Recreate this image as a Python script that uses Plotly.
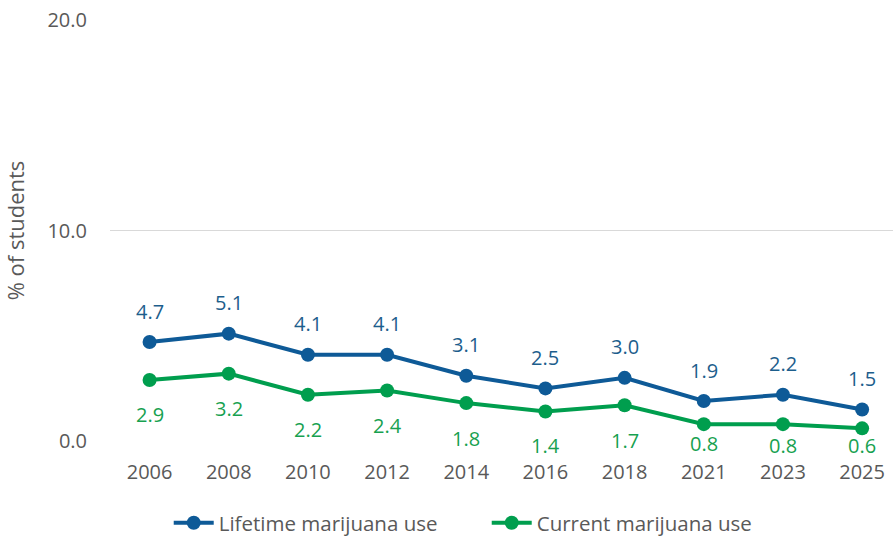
import plotly.graph_objects as go

years = ["2006", "2008", "2010", "2012", "2014", "2016", "2018", "2021", "2023", "2025"]
lifetime_use = [4.7, 5.1, 4.1, 4.1, 3.1, 2.5, 3.0, 1.9, 2.2, 1.5]
current_use = [2.9, 3.2, 2.2, 2.4, 1.8, 1.4, 1.7, 0.8, 0.8, 0.6]
y_ticks = [0, 10, 20]

# pixel offsets of the value labels (lifetime above, current below;
# the last current-use labels are pulled up so they stay clear of the year labels)
lifetime_label_shift = [31] * 10
current_label_shift = [-35] * 5 + [-34, -35, -19, -21, -17]

BLUE = "#0E5A97"
GREEN = "#009E4E"
BLUE_TEXT = "#1D5E8C"
GREEN_TEXT = "#17A150"
GREY = "#595959"
FONT = "Open Sans"

fig = go.Figure()
fig.add_trace(go.Scatter(
    x=years, y=lifetime_use, name="Lifetime marijuana use",
    mode="lines+markers",
    line=dict(color=BLUE, width=4),
    marker=dict(color=BLUE, size=14),
))
fig.add_trace(go.Scatter(
    x=years, y=current_use, name="Current marijuana use",
    mode="lines+markers",
    line=dict(color=GREEN, width=4),
    marker=dict(color=GREEN, size=14),
))

# value labels (category positions given by index so the year strings
# are not read as numbers)
for i, (v, s) in enumerate(zip(lifetime_use, lifetime_label_shift)):
    fig.add_annotation(x=i, y=v, text=f"{v:.1f}", showarrow=False,
                       yshift=s, font=dict(family=FONT, size=20, color=BLUE_TEXT))
for i, (v, s) in enumerate(zip(current_use, current_label_shift)):
    fig.add_annotation(x=i, y=v, text=f"{v:.1f}", showarrow=False,
                       yshift=s, font=dict(family=FONT, size=20, color=GREEN_TEXT))

fig.update_layout(
    width=893, height=538,
    margin=dict(l=110, r=0, t=20, b=97, autoexpand=False),
    paper_bgcolor="white", plot_bgcolor="white",
    font=dict(family=FONT, size=20, color=GREY),
    showlegend=True,
    legend=dict(orientation="h", x=0.075, xanchor="left",
                yref="container", y=0.028, yanchor="middle",
                font=dict(family=FONT, size=20.5, color=GREY),
                itemwidth=40, entrywidth=263, tracegroupgap=0),
    xaxis=dict(type="category", range=[-0.5, 9.39], showgrid=False, zeroline=False,
               showline=False, ticks="", ticklabelstandoff=17,
               tickfont=dict(family=FONT, size=20, color=GREY)),
    yaxis=dict(range=[0, 20], tickvals=y_ticks, tickformat=".1f",
               showgrid=True, gridcolor="#D9D9D9", gridwidth=1.3, zeroline=False,
               showline=False, ticks="", ticklabelstandoff=22,
               tickfont=dict(family=FONT, size=20, color=GREY),
               title=dict(text="% of students", standoff=22,
                          font=dict(family=FONT, size=22, color=GREY))),
)

fig.write_html("out.html")
